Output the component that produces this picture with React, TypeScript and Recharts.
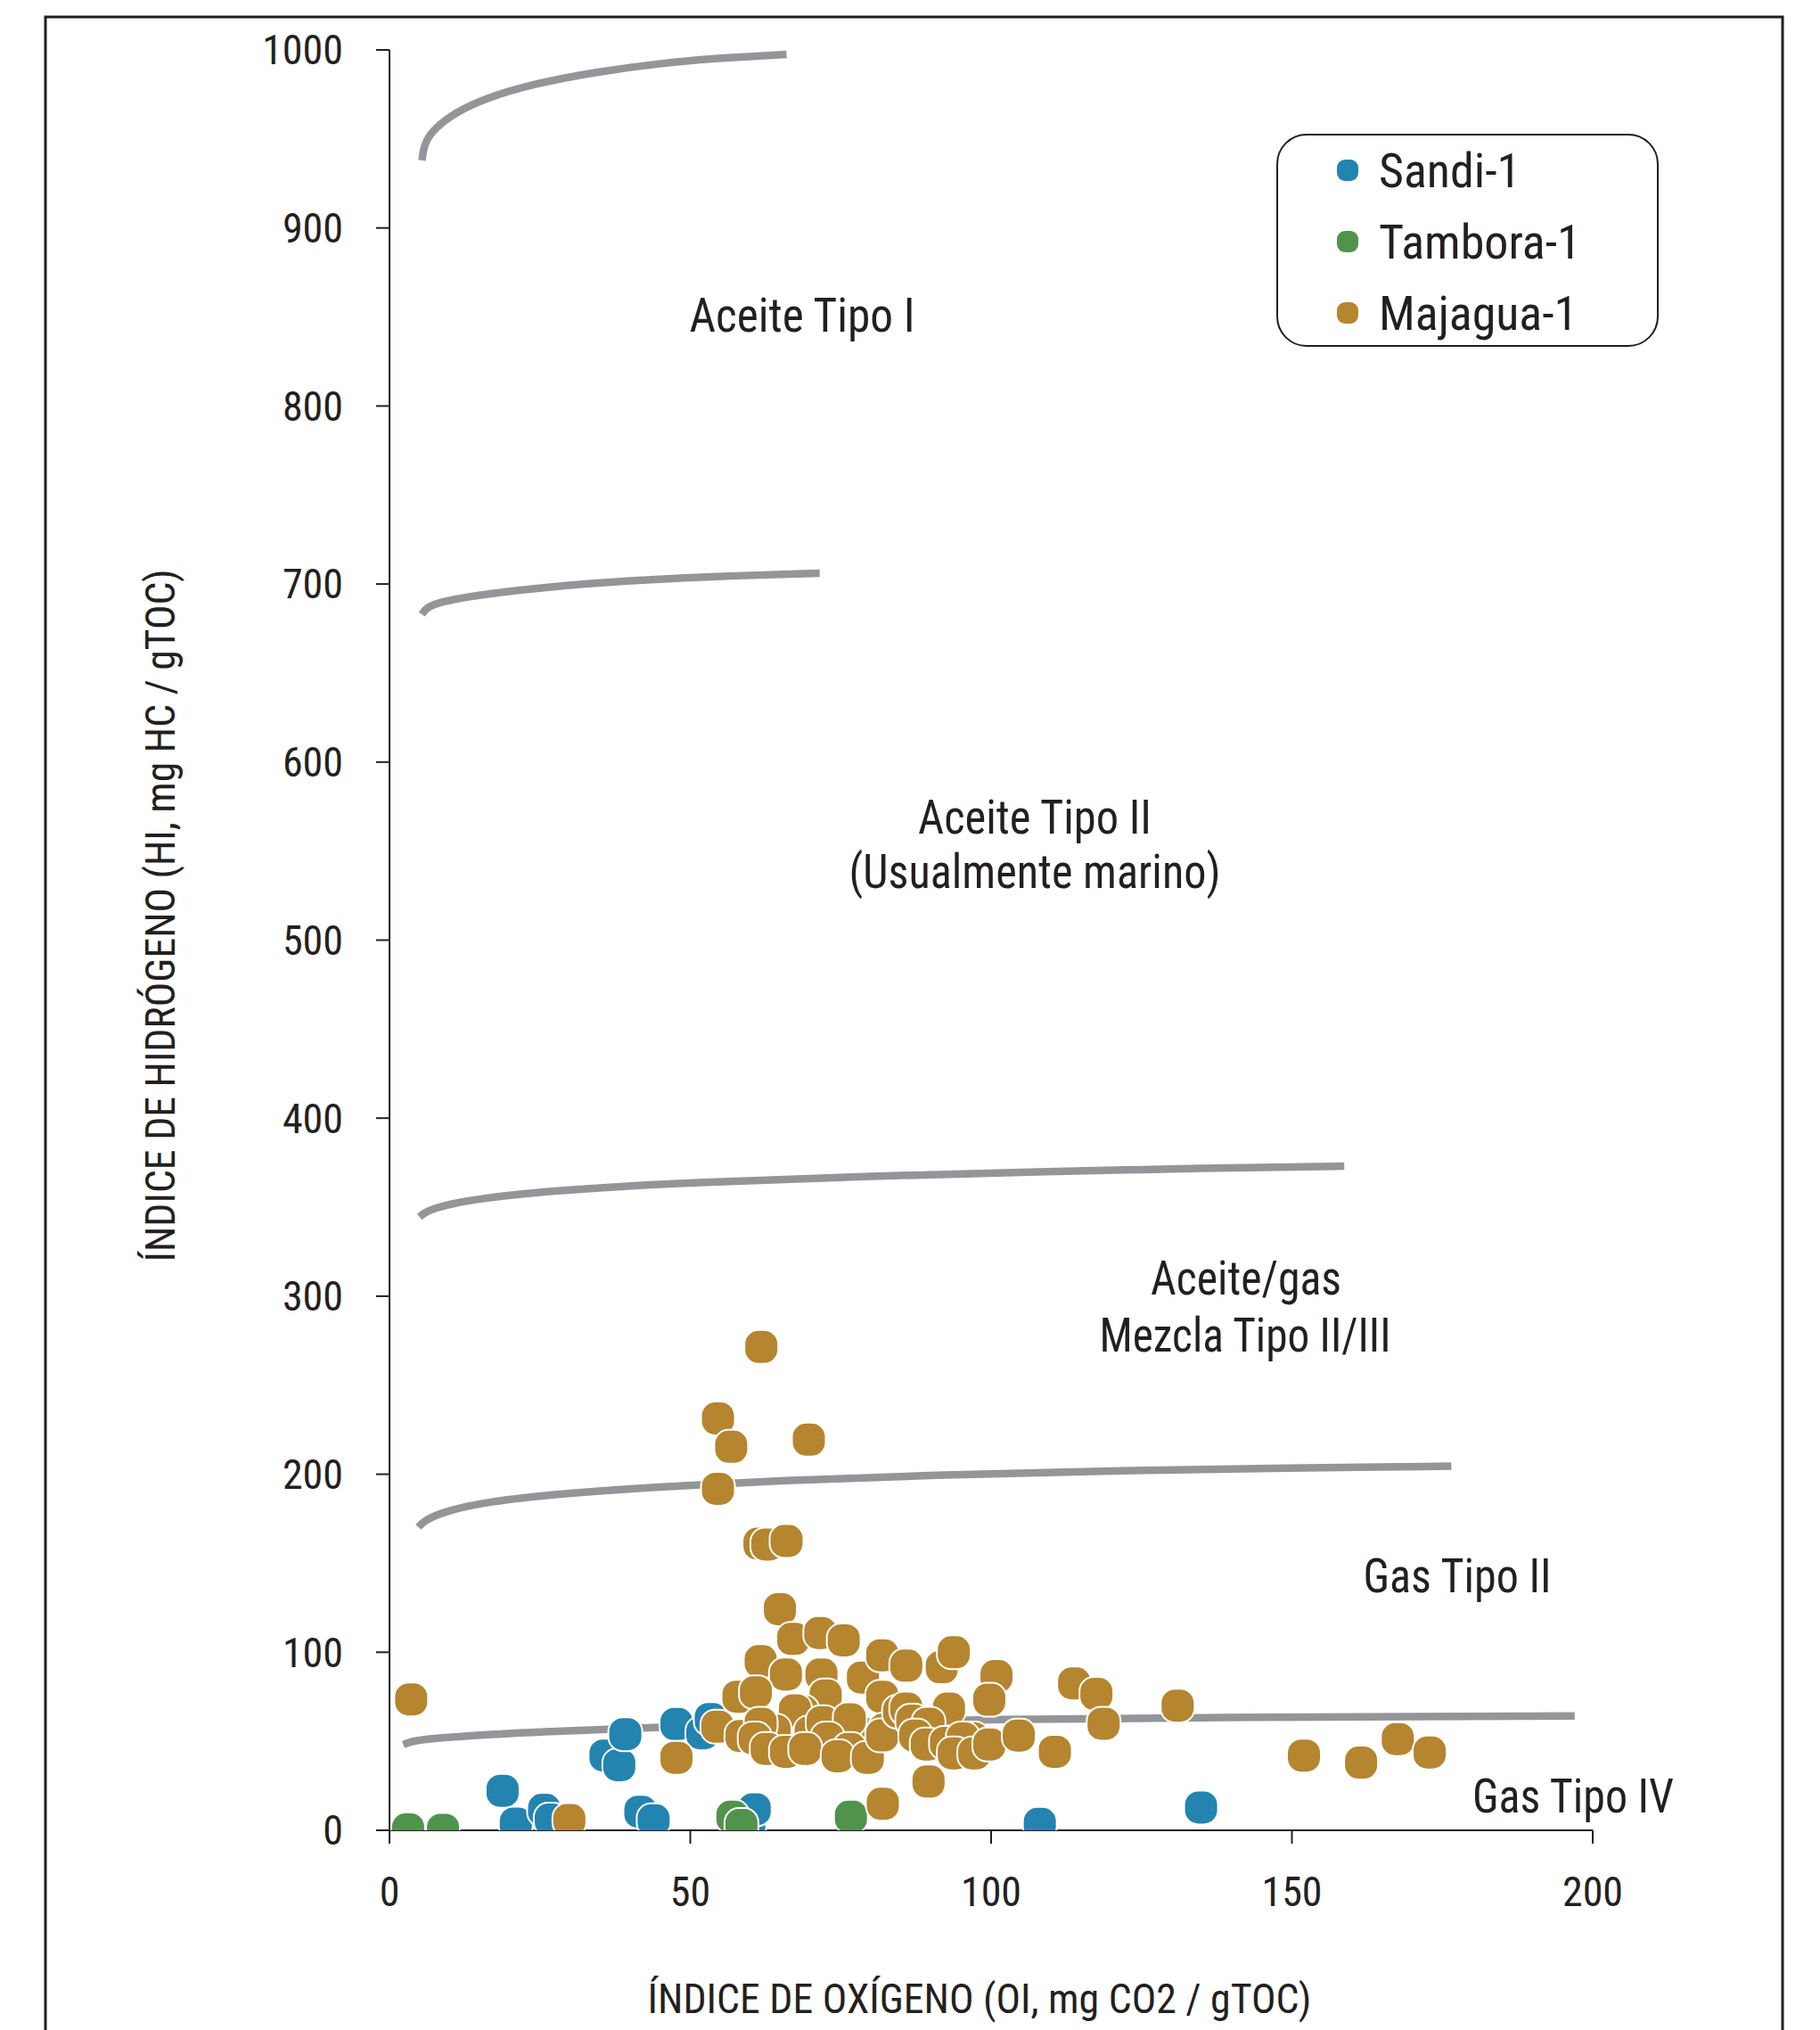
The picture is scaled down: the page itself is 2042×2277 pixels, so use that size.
import React from 'react';
import { ComposedChart, XAxis, YAxis, Scatter, Line } from 'recharts';

const FONT = "'Liberation Sans Narrow', 'Roboto Condensed', 'DejaVu Sans Condensed', 'Liberation Sans', Arial, sans-serif";
const INK = '#231F20';
const GRAY = '#939598';
const BLUE = '#2384AF';
const GREEN = '#50934C';
const GOLD = '#B5852F';

// Axis ticks
const X_TICKS = [0, 50, 100, 150, 200];
const Y_TICKS = [0, 100, 200, 300, 400, 500, 600, 700, 800, 900, 1000];

// Series: [OI, HI]
const sandi1: number[][] = [
  [18.8, 22.2], [21.0, 3.8], [25.7, 11.5], [26.8, 6.0], [35.9, 42.0], [38.2, 36.6],
  [39.2, 54.0], [41.7, 10.4], [43.9, 5.6], [47.7, 59.7], [52.0, 54.5], [53.4, 62.5],
  [59.8, 3.0], [60.7, 11.8], [108.1, 3.6], [134.9, 12.8],
];

const tambora1: number[][] = [
  [3.1, 0.5], [8.9, 0.3], [57.0, 7.6], [58.5, 3.0], [76.7, 7.6],
];

const majagua1: number[][] = [
  [3.6, 73.5], [29.9, 5.7], [47.7, 40.7], [54.6, 231.3], [56.8, 215.4], [69.7, 219.4],
  [54.6, 191.8], [61.8, 271.5], [61.5, 161.0], [62.8, 160.5], [66.0, 162.5],
  [64.9, 124.2], [67.1, 107.5], [71.6, 110.8], [75.5, 106.7], [61.7, 95.0], [65.9, 87.5],
  [71.8, 87.5], [78.7, 85.8], [81.9, 98.3], [58.0, 75.0], [60.9, 77.5], [72.5, 75.8],
  [81.9, 75.0], [68.6, 66.6], [67.4, 67.4], [54.5, 58.2], [64.0, 56.0], [70.0, 55.0],
  [78.0, 50.0], [84.0, 58.0], [58.5, 53.0], [61.7, 59.9], [72.0, 60.7], [76.5, 62.4],
  [82.4, 56.6], [60.7, 51.6], [62.7, 45.7], [65.9, 44.1], [72.8, 51.6], [69.1, 45.7],
  [76.5, 45.7], [74.5, 41.6], [79.5, 40.7], [81.9, 53.3], [85.9, 92.5], [91.8, 91.6],
  [93.8, 100.0], [100.9, 86.6], [99.7, 73.3], [113.8, 82.5], [117.5, 76.6], [118.7, 59.9],
  [84.7, 66.6], [85.9, 68.3], [93.0, 68.3], [86.9, 61.6], [89.6, 59.9], [87.4, 53.2],
  [89.3, 48.2], [92.5, 49.1], [96.9, 51.6], [95.3, 51.6], [93.8, 43.2], [97.2, 43.2],
  [99.7, 48.2], [104.6, 53.2], [110.6, 44.1], [89.6, 27.4], [131.0, 70.0], [82.0, 14.9],
  [152.0, 42.0], [161.5, 38.0], [167.6, 51.2], [172.9, 43.7],
];

// Boundary curves between kerogen types
const curveTipoI: number[][] = [
  [5.4, 938], [5.8, 948], [7.5, 956], [11, 965], [16, 973], [24, 981], [34, 987.5],
  [45, 992.5], [55, 995.5], [66, 997.5],
];
const curve700: number[][] = [
  [5.4, 683], [6.2, 687], [8.5, 690], [14, 693.5], [25, 698], [40, 702], [55, 704.5], [71.5, 706],
];
const curve370: number[][] = [
  [5, 344.5], [6, 347.5], [9, 351], [15, 355], [28, 359.5], [50, 364], [80, 367.5],
  [110, 370], [135, 372], [158.7, 373],
];
const curve200: number[][] = [
  [4.8, 170.3], [5.8, 174], [9, 179], [16, 184.5], [28, 189], [45, 193], [65, 196.5],
  [90, 199.5], [120, 202], [150, 203.5], [176.5, 204.5],
];
const curve60: number[][] = [
  [2.3, 48.1], [4, 50.5], [10, 52.5], [25, 55.3], [45, 58], [70, 60.5], [100, 62.3],
  [140, 63.5], [197, 64.2],
];

const SERIES = [
  { name: 'Sandi-1', data: sandi1, color: BLUE },
  { name: 'Tambora-1', data: tambora1, color: GREEN },
  { name: 'Majagua-1', data: majagua1, color: GOLD },
];
const CURVES = [curveTipoI, curve700, curve370, curve200, curve60];

const REGION_LABELS = [
  { text: 'Aceite Tipo I', x: 900, y: 372, len: 253 },
  { text: 'Aceite Tipo II', x: 1161, y: 935, len: 262 },
  { text: '(Usualmente marino)', x: 1161, y: 996, len: 417 },
  { text: 'Aceite/gas', x: 1398, y: 1452, len: 214 },
  { text: 'Mezcla Tipo II/III', x: 1397, y: 1516, len: 327 },
  { text: 'Gas Tipo II', x: 1635, y: 1786, len: 211 },
  { text: 'Gas Tipo IV', x: 1765, y: 2033, len: 226 },
];

const toPts = (arr: number[][]) => arr.map(([x, y]) => ({ x, y }));

const makeMarker = (color: string) => (props: any) => {
  const { cx, cy } = props;
  if (cx == null || cy == null) return <g />;
  return (
    <rect x={cx - 19} y={cy - 19} width={38} height={38} rx={16} ry={16}
      fill={color} stroke="#ffffff" strokeWidth={2} />
  );
};

const W = 2042;
const H = 2277;

const tickStyle = { fontSize: 46, fill: INK, fontFamily: FONT };

const labelStyle: React.CSSProperties = { fontFamily: FONT, fill: INK } as any;

export default function App() {
  return (
    <div style={{ position: 'absolute', left: 0, top: 0, width: W, height: H, background: '#fff', overflow: 'hidden' }}>
      <ComposedChart width={W} height={H} margin={{ top: 56, right: 255, bottom: 0, left: 0 }}>
        <XAxis type="number" dataKey="x" domain={[0, 200]} ticks={X_TICKS} allowDataOverflow
          height={224} tickSize={15} tickMargin={37}
          axisLine={{ stroke: INK, strokeWidth: 2 }} tickLine={{ stroke: INK, strokeWidth: 2 }}
          tick={tickStyle} interval={0} />
        <YAxis type="number" dataKey="y" domain={[0, 1000]} ticks={Y_TICKS} allowDataOverflow
          width={437} tickSize={15} tickMargin={37}
          axisLine={{ stroke: INK, strokeWidth: 2 }} tickLine={{ stroke: INK, strokeWidth: 2 }}
          tick={tickStyle} interval={0} />
        {SERIES.map((s) => (
          <Scatter key={s.name} name={s.name} data={toPts(s.data)} dataKey="y" fill={s.color}
            shape={makeMarker(s.color)} isAnimationActive={false} />
        ))}
        {CURVES.map((c, i) => (
          <Line key={'c' + i} data={toPts(c)} dataKey="y" type="basis" stroke={GRAY}
            strokeWidth={8.5} dot={false} activeDot={false} strokeLinecap="butt"
            isAnimationActive={false} legendType="none" />
        ))}
      </ComposedChart>

      <svg width={W} height={H} style={{ position: 'absolute', left: 0, top: 0, pointerEvents: 'none' }}>
        <path d="M51,2277 V19 H2000 V2277" fill="none" stroke={INK} strokeWidth={3} />

        <text x={1099} y={2258} textAnchor="middle" fontSize={46} textLength={745}
          lengthAdjust="spacingAndGlyphs" style={labelStyle}>
          ÍNDICE DE OXÍGENO (OI, mg CO2 / gTOC)
        </text>
        <text transform="translate(196,1027) rotate(-90)" textAnchor="middle" fontSize={46}
          textLength={777} lengthAdjust="spacingAndGlyphs" style={labelStyle}>
          ÍNDICE DE HIDRÓGENO (HI, mg HC / gTOC)
        </text>

        {REGION_LABELS.map((l) => (
          <text key={l.text} x={l.x} y={l.y} textAnchor="middle" fontSize={54}
            textLength={l.len} lengthAdjust="spacingAndGlyphs" style={labelStyle}>
            {l.text}
          </text>
        ))}

        <g transform="translate(1432,150)">
          <rect x={1} y={1} width={427} height={237} rx={33} ry={33} fill="#fff" stroke={INK} strokeWidth={2} />
          {SERIES.map((s, i) => {
            const cy = 41 + i * 80;
            return (
              <g key={s.name}>
                <rect x={68} y={cy - 12} width={24} height={24} rx={9} ry={9} fill={s.color} />
                <text x={115} y={cy + 19} fontSize={54} style={labelStyle}>{s.name}</text>
              </g>
            );
          })}
        </g>
      </svg>
    </div>
  );
}
